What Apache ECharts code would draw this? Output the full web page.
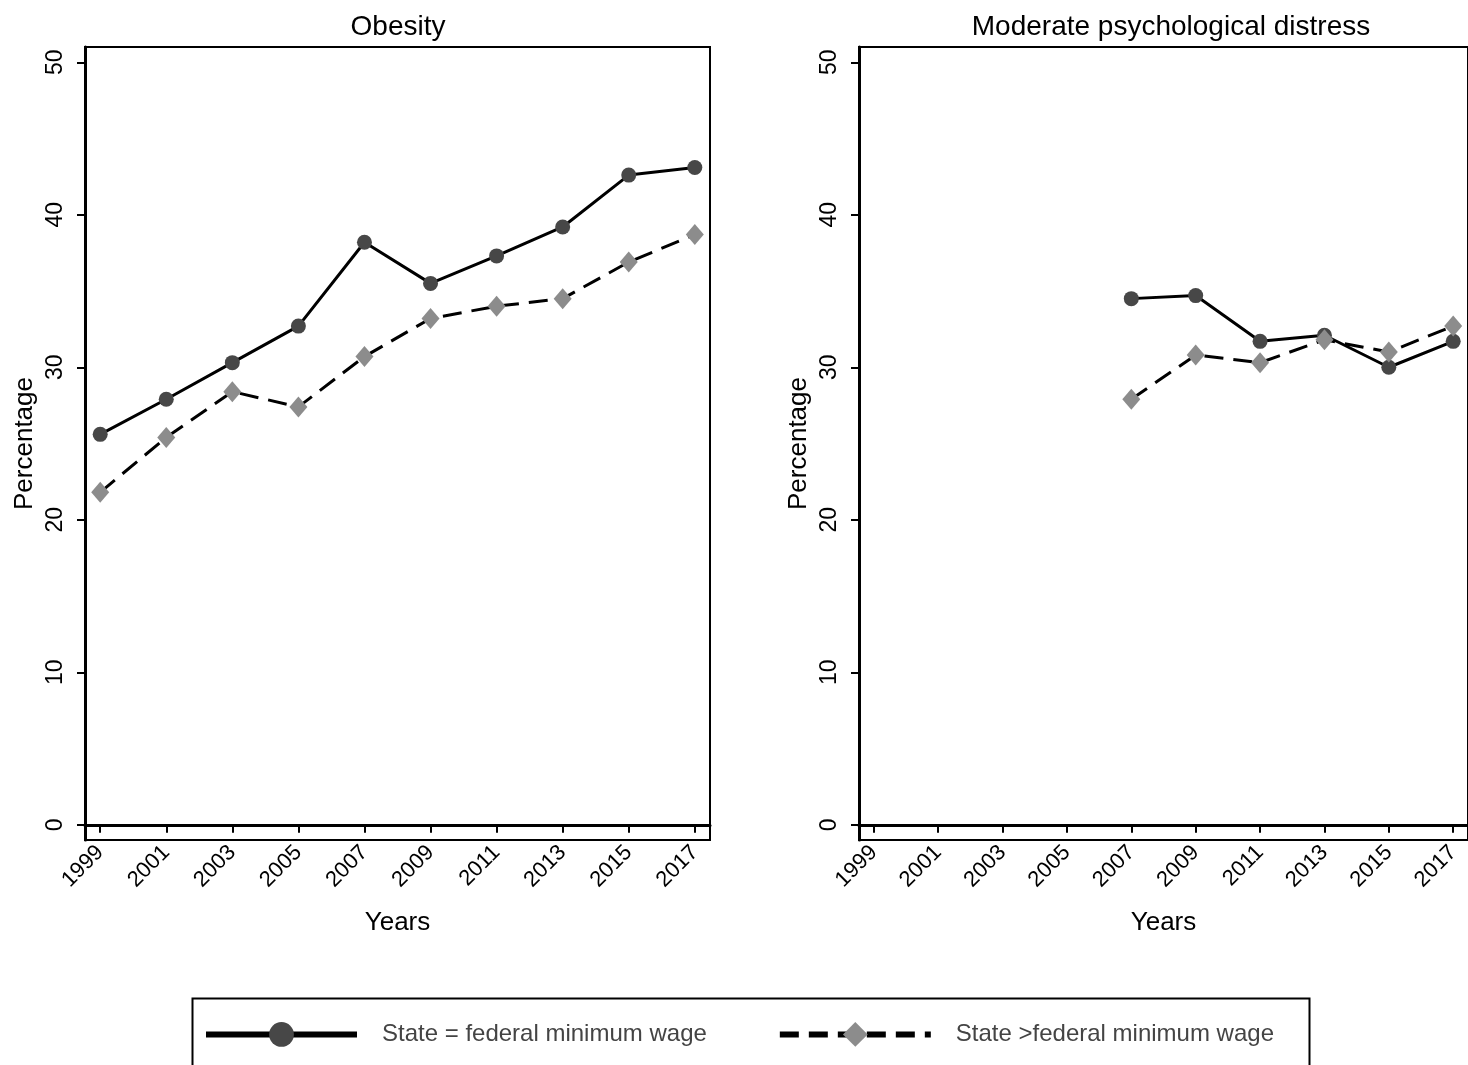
<!DOCTYPE html>
<html>
<head>
<meta charset="utf-8">
<script src="https://cdn.jsdelivr.net/npm/echarts@6/dist/echarts.min.js"></script>
<style>
  html, body { margin: 0; padding: 0; background: #fff; }
  #chart { width: 1468px; height: 1065px; }
</style>
</head>
<body>
<div id="chart"></div>
<script>
// years shown on both x axes
var years = [1999, 2001, 2003, 2005, 2007, 2009, 2011, 2013, 2015, 2017];
var yTicks = [0, 10, 20, 30, 40, 50];

// Obesity panel
var obesityEqual = [25.6, 27.9, 30.3, 32.7, 38.2, 35.5, 37.3, 39.2, 42.6, 43.1];
var obesityAbove = [21.8, 25.4, 28.4, 27.4, 30.7, 33.2, 34.0, 34.5, 36.9, 38.7];

// Moderate psychological distress panel (2007 onwards)
var distressYears = [2007, 2009, 2011, 2013, 2015, 2017];
var distressEqual = [34.5, 34.7, 31.7, 32.1, 30.0, 31.7];
var distressAbove = [27.9, 30.8, 30.3, 31.8, 31.0, 32.7];

var nameEqual = 'State = federal minimum wage';
var nameAbove = 'State >federal minimum wage';

var font = 'Arial, Liberation Sans';

function pairs(xs, ys) {
    return xs.map(function (x, i) { return [x, ys[i]]; });
}

var myChart = echarts.init(document.getElementById('chart'));

function xAxisFor(idx) {
    return {
        gridIndex: idx,
        type: 'value',
        min: 1998.54,
        max: 2017.46,
        name: 'Years',
        nameLocation: 'middle',
        nameGap: 70,
        nameTextStyle: { color: '#000', fontSize: 26, fontFamily: font },
        axisLine: { show: true, lineStyle: { color: '#000', width: 3 } },
        axisTick: { show: true, length: 8, lineStyle: { color: '#000', width: 2 }, customValues: years },
        axisLabel: {
            color: '#000', fontSize: 22, fontFamily: font,
            rotate: 45, margin: 9, customValues: years,
            formatter: function (v) { return String(v); }
        },
        splitLine: { show: false }
    };
}

function yAxisFor(idx) {
    return {
        gridIndex: idx,
        type: 'value',
        min: -1,
        max: 51,
        name: 'Percentage',
        nameLocation: 'middle',
        nameGap: 47,
        nameTextStyle: { color: '#000', fontSize: 26, fontFamily: font },
        axisLine: { show: true, lineStyle: { color: '#000', width: 3 } },
        axisTick: { show: true, length: 8, lineStyle: { color: '#000', width: 2 }, customValues: yTicks },
        axisLabel: {
            color: '#000', fontSize: 23, fontFamily: font,
            rotate: 90, margin: 18, customValues: yTicks
        },
        splitLine: { show: false }
    };
}

function solidSeries(idx, data) {
    return {
        name: nameEqual,
        type: 'line',
        xAxisIndex: idx,
        yAxisIndex: idx,
        data: data,
        symbol: 'circle',
        symbolSize: 15,
        lineStyle: { color: '#000', width: 3 },
        itemStyle: { color: '#474747', borderWidth: 0 },
        z: 3
    };
}

function dashedSeries(idx, data) {
    return {
        name: nameAbove,
        type: 'line',
        xAxisIndex: idx,
        yAxisIndex: idx,
        data: data,
        symbol: 'diamond',
        symbolSize: [18, 21],
        lineStyle: { color: '#000', width: 3, type: [19, 10] },
        itemStyle: { color: '#8c8c8c', borderWidth: 0 },
        z: 4
    };
}

var option = {
    backgroundColor: '#fff',
    animation: false,
    title: [
        { text: 'Obesity', left: 393, top: 8, textAlign: 'center',
          textStyle: { color: '#000', fontSize: 28, fontWeight: 'normal', fontFamily: font } },
        { text: 'Moderate psychological distress', left: 1166, top: 8, textAlign: 'center',
          textStyle: { color: '#000', fontSize: 28, fontWeight: 'normal', fontFamily: font } }
    ],
    grid: [
        { left: 85, top: 47, width: 625, height: 793, show: true, borderColor: '#000', borderWidth: 2, backgroundColor: 'transparent' },
        { left: 859, top: 47, width: 623, height: 793, show: true, borderColor: '#000', borderWidth: 2, backgroundColor: 'transparent' }
    ],
    xAxis: [xAxisFor(0), xAxisFor(1)],
    yAxis: [yAxisFor(0), yAxisFor(1)],
    legend: {
        left: 203,
        top: 1022,
        padding: 0,
        itemWidth: 151,
        itemHeight: 31,
        itemGap: 70,
        textStyle: { color: '#444', fontSize: 24, fontFamily: font, padding: [0, 0, 0, 20] },
        data: [
            { name: nameEqual, lineStyle: { width: 6 } },
            { name: nameAbove, lineStyle: { width: 6 } }
        ]
    },
    graphic: [
        { type: 'rect', left: 190, top: 996, shape: { width: 1117, height: 100 },
          style: { fill: 'none', stroke: '#000', lineWidth: 2 }, silent: true }
    ],
    series: [
        solidSeries(0, pairs(years, obesityEqual)),
        dashedSeries(0, pairs(years, obesityAbove)),
        solidSeries(1, pairs(distressYears, distressEqual)),
        dashedSeries(1, pairs(distressYears, distressAbove))
    ]
};

myChart.setOption(option);
</script>
</body>
</html>
